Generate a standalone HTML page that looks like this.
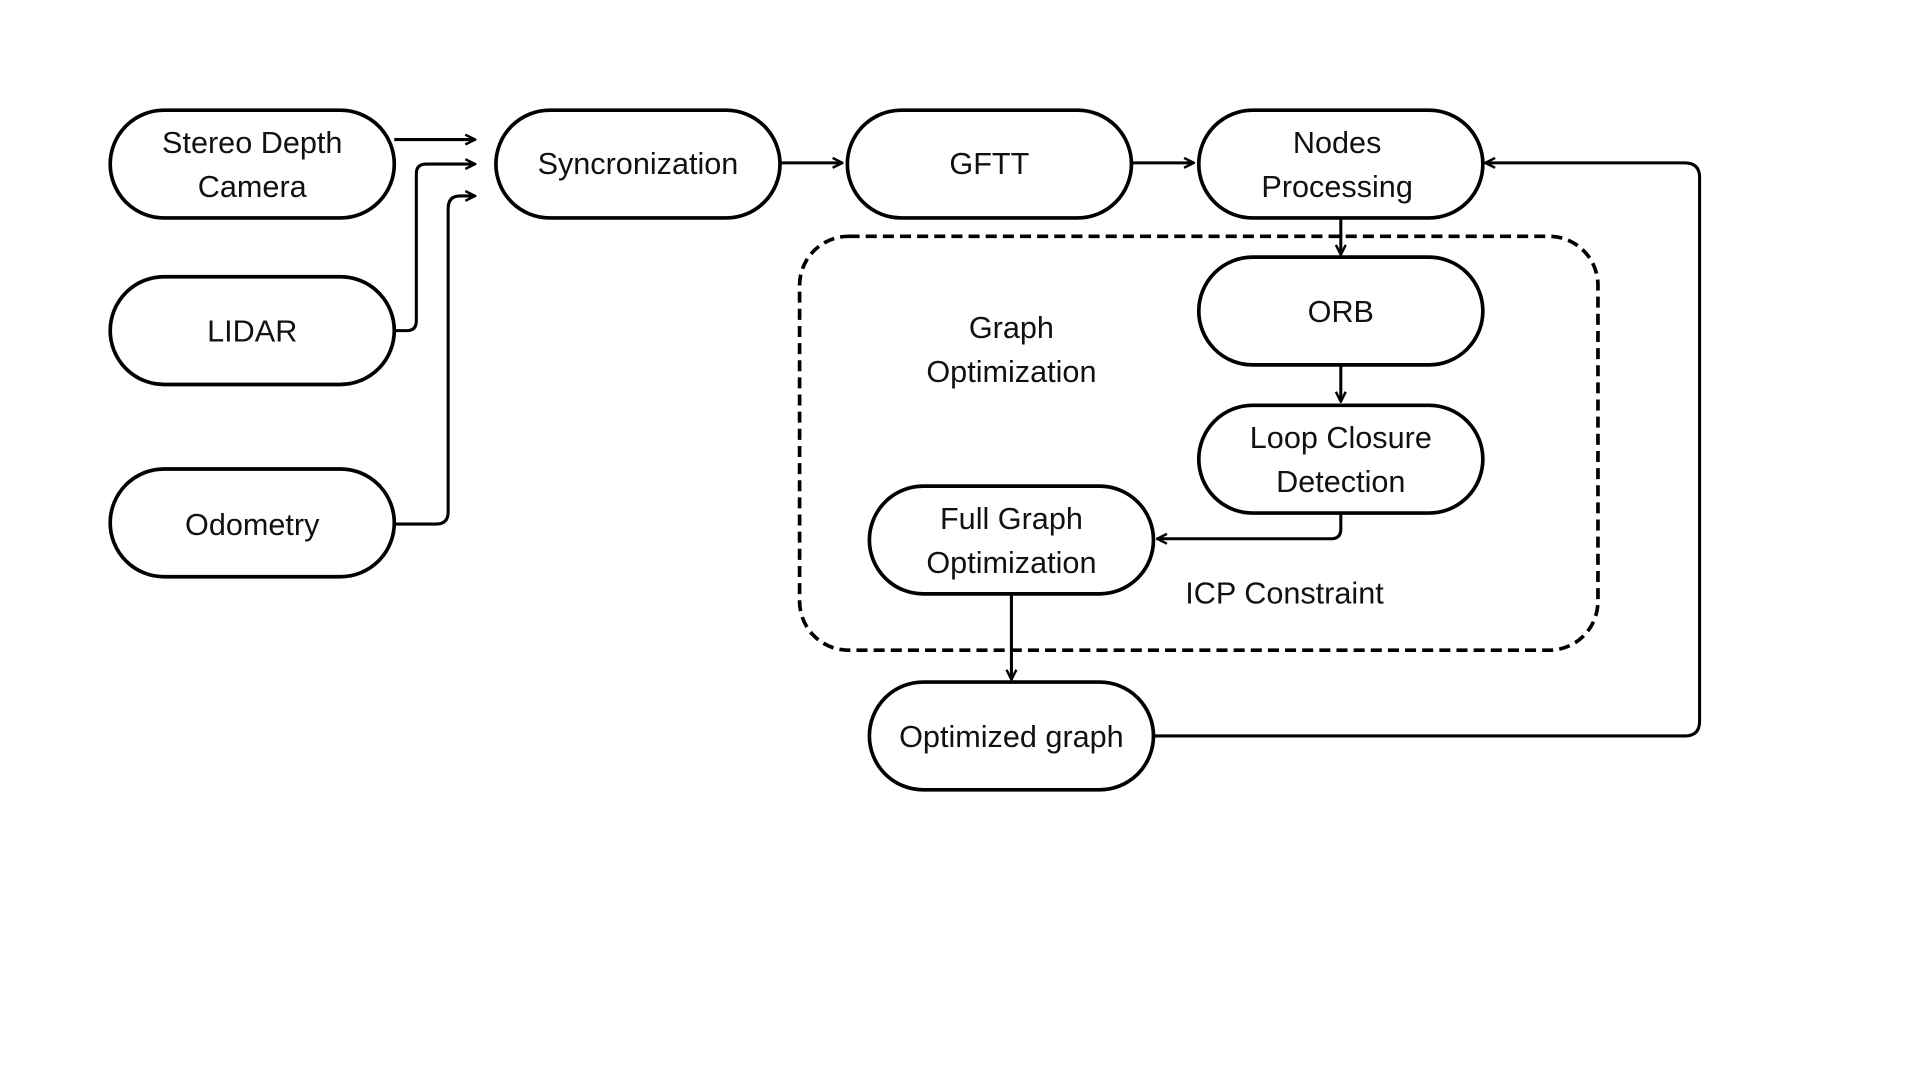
<!DOCTYPE html>
<html><head><meta charset="utf-8"><style>html,body{margin:0;padding:0;background:#fff}svg{display:block}</style></head>
<body>
<svg width="1920" height="1080" viewBox="0 0 1568 882" xmlns="http://www.w3.org/2000/svg">
<defs>
<marker id="a" viewBox="0 0 10 10" refX="9" refY="5" markerWidth="4" markerHeight="4" orient="auto" markerUnits="strokeWidth">
<path d="M1 1 L9 5 L1 9" fill="none" stroke="#000" stroke-width="2"/>
</marker>
</defs>
<rect width="1568" height="882" fill="#fff"/>
<g fill="none" stroke="#000" stroke-width="3">
<rect x="653" y="193" width="652" height="338" rx="40" stroke-dasharray="9 5"/>
<rect x="90" y="90" width="232" height="88" rx="44"/>
<rect x="90" y="226" width="232" height="88" rx="44"/>
<rect x="90" y="383" width="232" height="88" rx="44"/>
<rect x="405" y="90" width="232" height="88" rx="44"/>
<rect x="692" y="90" width="232" height="88" rx="44"/>
<rect x="979" y="90" width="232" height="88" rx="44"/>
<rect x="979" y="210" width="232" height="88" rx="44"/>
<rect x="979" y="331" width="232" height="88" rx="44"/>
<rect x="710" y="397" width="232" height="88" rx="44"/>
<rect x="710" y="557" width="232" height="88" rx="44"/>
<g stroke-width="2.5" marker-end="url(#a)">
<path d="M322 114 H388"/>
<path d="M322 270 H332 Q340 270 340 262 V142 Q340 134 348 134 H388"/>
<path d="M322 428 H356 Q366 428 366 418 V170 Q366 160 376 160 H388"/>
<path d="M637 133 H688"/>
<path d="M924 133 H975"/>
<path d="M1095 178 V208"/>
<path d="M1095 298 V328"/>
<path d="M1095 419 V432 Q1095 440 1087 440 H945"/>
<path d="M826 485 V555"/>
<path d="M942 601 H1376 Q1388 601 1388 589 V145 Q1388 133 1376 133 H1213"/>
</g>
</g>
<g font-family="Liberation Sans, sans-serif" font-size="25" text-anchor="middle" fill="#111">
<text x="206" y="125">Stereo Depth</text><text x="206" y="161">Camera</text>
<text x="206" y="279">LIDAR</text>
<text x="206" y="437">Odometry</text>
<text x="521" y="142">Syncronization</text>
<text x="808" y="142">GFTT</text>
<text x="1092" y="125">Nodes</text><text x="1092" y="161">Processing</text>
<text x="1095" y="263">ORB</text>
<text x="1095" y="366">Loop Closure</text><text x="1095" y="402">Detection</text>
<text x="826" y="432">Full Graph</text><text x="826" y="468">Optimization</text>
<text x="826" y="610">Optimized graph</text>
<text x="826" y="276">Graph</text><text x="826" y="312">Optimization</text>
<text x="1049" y="493">ICP Constraint</text>
</g>
</svg>
</body></html>
